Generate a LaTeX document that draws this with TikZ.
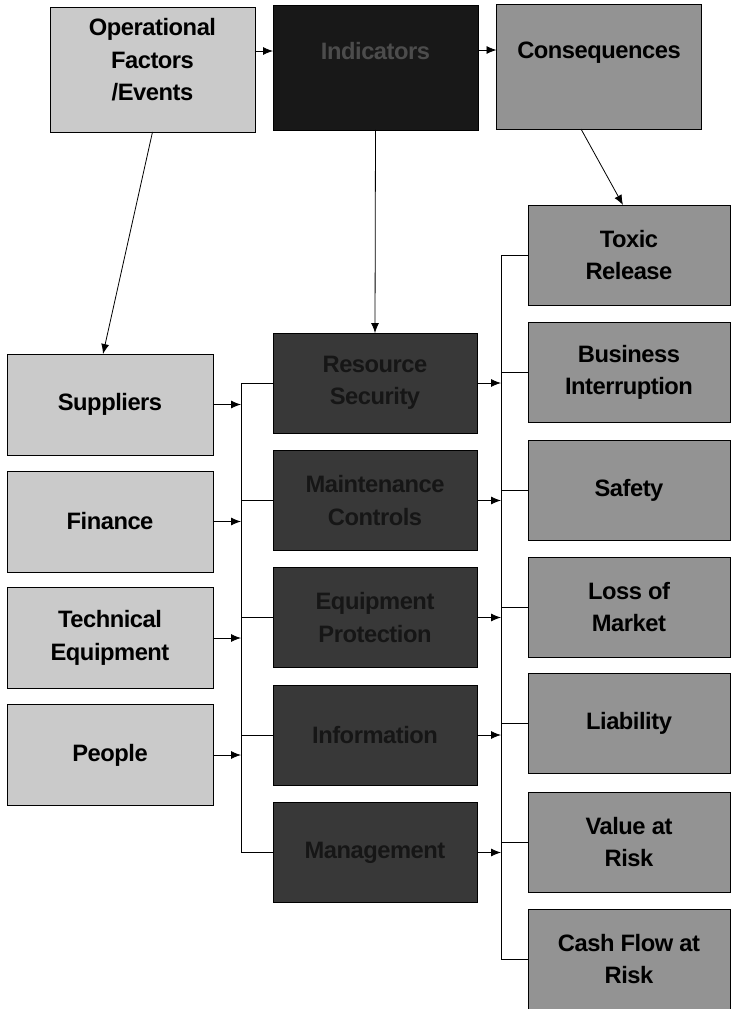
\documentclass[tikz,border=0pt]{standalone}
\usepackage{fontspec}
\setmainfont{Liberation Sans}[LetterSpace=-2.0]
\usetikzlibrary{arrows.meta}

\definecolor{lightbox}{HTML}{CACACA}
\definecolor{midbox}{HTML}{939393}
\definecolor{darkbox}{HTML}{383838}
\definecolor{blackbox}{HTML}{181818}
\definecolor{darktext}{HTML}{161616}
\definecolor{headtext}{HTML}{4C4C4C}

\tikzset{
  box/.style={draw=black, line width=0.016cm, inner sep=0pt, outer sep=0pt,
    align=center, font=\fontsize{13.5}{18.5}\selectfont\bfseries},
  headbox/.style={box, minimum width=4.1cm, minimum height=2.5cm},
  factorbox/.style={box, fill=lightbox, minimum width=4.12cm, minimum height=2.02cm},
  controlbox/.style={box, fill=darkbox, text=darktext, minimum width=4.08cm, minimum height=2.0cm},
  resultbox/.style={box, fill=midbox, minimum width=4.04cm, minimum height=2.0cm},
  link/.style={line width=0.016cm},
  arrow/.style={link, -{Latex[length=0.2cm, width=0.16cm]}},
}

\begin{document}
\begin{tikzpicture}[x=0.02cm, y=-0.02cm]
                \useasboundingbox (0,0) rectangle (732,1009);

                % Drawing header boxes
                \node [headbox, fill=lightbox, text depth=11pt] (op) at (152.5,69.5) {Operational\\Factors\\/Events};
                \node [headbox, fill=blackbox, text=headtext, text depth=19pt] (ind) at (375.5,67.5) {Indicators};
                \node [headbox, fill=midbox, text depth=19pt] (cons) at (599,66.5) {Consequences};

                % Drawing factor boxes
                \node [factorbox] (sup) at (110,404.5) {Suppliers};
                \node [factorbox] (fin) at (110,521.5) {Finance};
                \node [factorbox] (tech) at (110,638) {Technical\\Equipment};
                \node [factorbox] (ppl) at (110,755) {People};

                % Drawing control boxes
                \node [controlbox] (res) at (375,383) {Resource\\Security};
                \node [controlbox] (mnt) at (375,500.5) {Maintenance\\Controls};
                \node [controlbox] (eqp) at (375,617.5) {Equipment\\Protection};
                \node [controlbox] (inf) at (375,735) {Information};
                \node [controlbox] (mgt) at (375,852.5) {Management};

                % Drawing result boxes
                \node [resultbox] (tox) at (629,255) {Toxic\\Release};
                \node [resultbox] (biz) at (629,372.5) {Business\\Interruption};
                \node [resultbox] (saf) at (629,490) {Safety};
                \node [resultbox] (loss) at (629,607) {Loss of\\Market};
                \node [resultbox] (liab) at (629,723.5) {Liability};
                \node [resultbox] (var) at (629,842) {Value at\\Risk};
                \node [resultbox] (cfar) at (629,959) {Cash Flow at\\Risk};

                % Drawing header links
                \draw [arrow] ([yshift=0.37cm]op.east) -- ([yshift=0.37cm]op.east -| ind.west);%
                \draw [arrow] ([yshift=0.35cm]ind.east) -- ([yshift=0.35cm]ind.east -| cons.west);%
                \draw [arrow] (op.south) -- ([xshift=-0.14cm]sup.north);%
                \draw [arrow] (ind.south) -- (res.north);%
                \draw [arrow] ([xshift=-0.36cm]cons.south) -- ([xshift=-0.12cm]tox.north);%

                % Drawing left bus
                \coordinate (lbus) at (241,0);
                \draw [link] (lbus |- res.west) -- (lbus |- mgt.west);%
                \foreach \n in {sup,fin,tech,ppl}
                  \draw [arrow] (\n.east) -- (lbus |- \n.east);%
                \foreach \n in {res,mnt,eqp,inf,mgt}
                  \draw [link] (lbus |- \n.west) -- (\n.west);%

                % Drawing right bus
                \coordinate (rbus) at (501,0);
                \draw [link] (rbus |- tox.west) -- (rbus |- cfar.west);%
                \foreach \n in {res,mnt,eqp,inf,mgt}
                  \draw [arrow] (\n.east) -- (rbus |- \n.east);%
                \foreach \n in {tox,biz,saf,loss,liab,var,cfar}
                  \draw [link] (rbus |- \n.west) -- (\n.west);%
\end{tikzpicture}
\end{document}
